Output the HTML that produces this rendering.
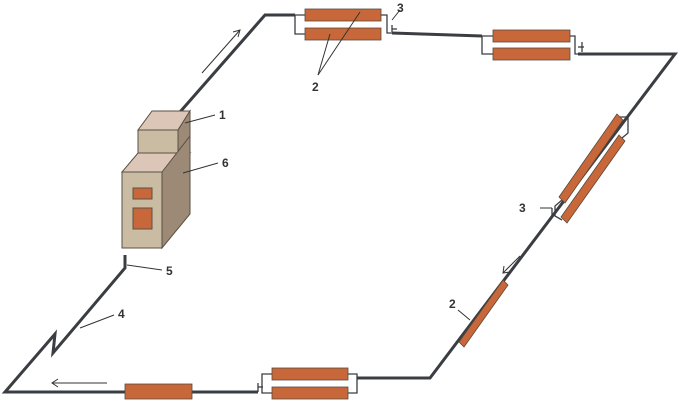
<!DOCTYPE html>
<html><head><meta charset="utf-8"><style>
html,body{margin:0;padding:0;background:#fff;}
svg{display:block}
text{font-family:"Liberation Sans",sans-serif;font-size:12px;font-weight:bold;fill:#333}
</style></head><body>
<svg width="680" height="400" viewBox="0 0 680 400" xmlns="http://www.w3.org/2000/svg">
<g fill="none" stroke="#3a3d42" stroke-width="3" stroke-linejoin="miter">
<polyline points="180,112 265,15 295,15"/>
<polyline points="392,33 482,36"/>
<polyline points="578,54 675,54 430,378 357,378"/>
<polyline points="258,392 5,392 55,334 53,353 125,268 125,255"/>
</g>
<g fill="none" stroke="#3a3d42" stroke-width="1.3">
<polyline points="305,15 295,15 295,34 305,34"/>
<polyline points="381,15 387,15 387,33 392,33"/>
<line x1="392" y1="25" x2="392" y2="32"/><line x1="392" y1="29" x2="397" y2="29"/>
<polyline points="493,36 482,36 482,54 493,54"/>
<polyline points="570,36 575,36 575,54 578,54"/>
<line x1="582" y1="42" x2="582" y2="52"/><line x1="578" y1="47" x2="584" y2="47"/>
<polyline points="272,374 262,374 262,393 272,393"/>
<polyline points="348,374 357,374 357,393 348,393"/>
<line x1="258" y1="383" x2="258" y2="392"/><line x1="258" y1="387" x2="263" y2="387"/>
<polyline points="620,117 628,117 628,133 622,138"/>
<polyline points="562,200 555,206 555,216 562,220"/>
<line x1="552" y1="208" x2="552" y2="216"/>
</g>
<g fill="#c8683a" stroke="#5a4a3a" stroke-width="0.8">
<rect x="305" y="9" width="76" height="12"/>
<rect x="305" y="28" width="76" height="12"/>
<rect x="493" y="30" width="77" height="12"/>
<rect x="493" y="48" width="77" height="12"/>
<rect x="272" y="368" width="76" height="12"/>
<rect x="272" y="387" width="76" height="12"/>
<rect x="125" y="384" width="67" height="15"/>
<polygon points="617,114 623,120 565,203 559,197"/>
<polygon points="619,135 625,141 567,223 561,217"/>
<polygon points="503,280 508,285 464,347 459,342"/>
</g>
<!-- device -->
<g stroke="#5a4f44" stroke-width="1">
<polygon points="138,130 152,111 190,111 178,130" fill="#dcc6b8"/>
<rect x="138" y="130" width="40" height="23" fill="#c9bca3"/>
<polygon points="178,130 190,111 190,138 178,153" fill="#9c8a76"/>
<polygon points="122,172 138,153 190,153 162,172" fill="#dcc6b8"/>
<rect x="122" y="172" width="40" height="76" fill="#c9bca3"/>
<polygon points="162,172 190,136 190,214 162,248" fill="#9c8a76"/>
<rect x="133" y="188" width="19" height="11" fill="#c8683a"/>
<rect x="133" y="208" width="19" height="21" fill="#c8683a"/>
</g>
<g stroke="#333" stroke-width="1" fill="none">
<line x1="185" y1="123" x2="215" y2="115"/>
<line x1="183" y1="173" x2="218" y2="163"/>
<line x1="318" y1="75" x2="330" y2="34"/>
<line x1="318" y1="75" x2="360" y2="12"/>
<line x1="392" y1="20" x2="400" y2="10"/>
<line x1="540" y1="208" x2="552" y2="208"/>
<line x1="127" y1="265" x2="162" y2="270"/>
<line x1="80" y1="328" x2="114" y2="315"/>
<line x1="458" y1="310" x2="470" y2="320"/>
<line x1="202" y1="73" x2="240" y2="30"/>
<polyline points="233,32 240,30 238,37"/>
<line x1="520" y1="256" x2="503" y2="273"/>
<polyline points="504,266 503,273 510,272"/>
<line x1="107" y1="383" x2="52" y2="383"/>
<polyline points="58,379 52,383 58,387"/>
</g>
<text x="219" y="119">1</text>
<text x="222" y="167">6</text>
<text x="312" y="91">2</text>
<text x="397" y="12">3</text>
<text x="519" y="212">3</text>
<text x="449" y="308">2</text>
<text x="166" y="275">5</text>
<text x="118" y="318">4</text>
</svg>
</body></html>
